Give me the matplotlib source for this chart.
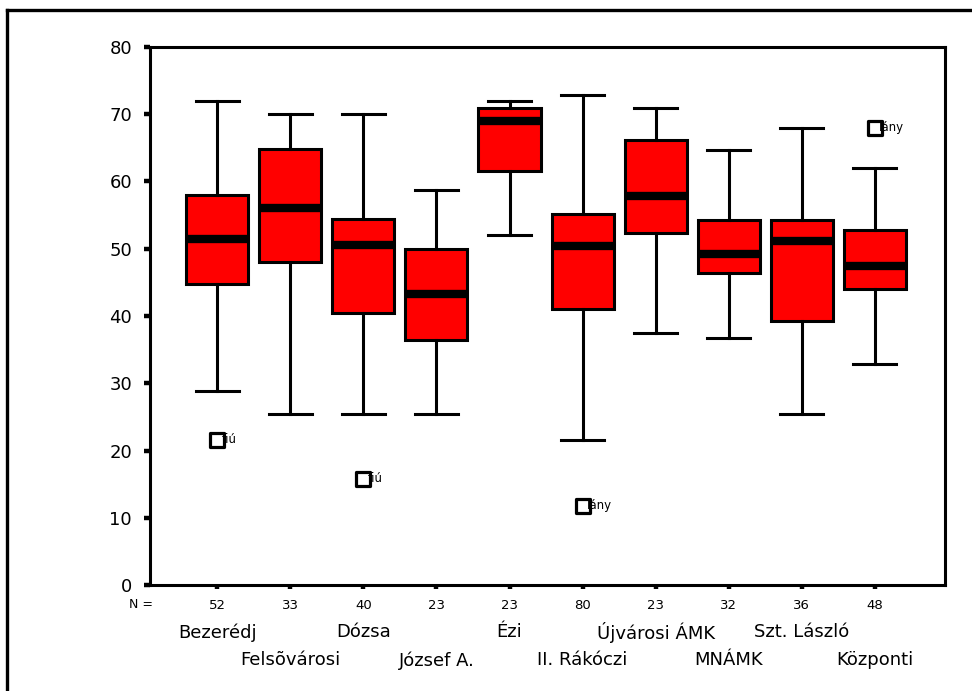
import matplotlib
matplotlib.use("Agg")
import matplotlib.pyplot as plt
from matplotlib.lines import Line2D
from matplotlib.markers import MarkerStyle

plt.rcParams["font.family"] = ["DejaVu Sans"]

# iskolák (kategóriák)
schools = ["Bezerédj", "Felsõvárosi", "Dózsa", "József A.", "Ézi",
           "II. Rákóczi", "Újvárosi ÁMK", "MNÁMK", "Szt. László", "Központi"]
n_values = [52, 33, 40, 23, 23, 80, 23, 32, 36, 48]

# doboz statisztikák
whisk_lo = [28.8, 25.5, 25.5, 25.5, 52.0, 21.6, 37.5, 36.8, 25.5, 32.8]
q1 = [44.8, 48.0, 40.5, 36.5, 61.5, 41.1, 52.3, 46.4, 39.2, 44.0]
medians = [51.5, 56.0, 50.5, 43.2, 69.0, 50.4, 57.8, 49.2, 51.1, 47.5]
q3 = [58.0, 64.8, 54.4, 50.0, 70.9, 55.1, 66.2, 54.3, 54.3, 52.8]
whisk_hi = [72.0, 70.0, 70.0, 58.8, 72.0, 72.8, 70.9, 64.7, 67.9, 62.0]

# kiugró értékek: (doboz index, érték, címke)
outlier_idx = [0, 2, 5, 9]
outlier_val = [21.6, 15.8, 11.8, 68.0]
outlier_lab = ["fiú", "fiú", "lány", "lány"]

positions = list(range(1, len(schools) + 1))

stats = []
for i in range(len(schools)):
    stats.append({
        "whislo": whisk_lo[i], "q1": q1[i], "med": medians[i],
        "q3": q3[i], "whishi": whisk_hi[i], "fliers": [],
    })

fig = plt.figure(figsize=(9.72, 6.91), dpi=100)
ax = fig.add_axes([150 / 972, 1 - 585 / 691, 795 / 972, 538 / 691])

ax.bxp(
    stats,
    positions=positions,
    widths=0.85,
    patch_artist=True,
    showfliers=False,
    boxprops=dict(facecolor="#ff0000", edgecolor="black", linewidth=2.2),
    medianprops=dict(color="black", linewidth=6, solid_capstyle="butt"),
    whiskerprops=dict(color="black", linewidth=2.2),
    capprops=dict(color="black", linewidth=2.2),
    capwidths=0.59,
)

# kiugró pontok
marker = MarkerStyle("s", joinstyle="round")
for i, v, lab in zip(outlier_idx, outlier_val, outlier_lab):
    x = positions[i]
    ax.plot([x], [v], linestyle="none", marker=marker, markersize=10.5,
            markerfacecolor="white", markeredgecolor="black",
            markeredgewidth=2.3, zorder=5)
    ax.annotate(lab, (x, v), xytext=(3, 0), textcoords="offset points",
                ha="left", va="center", fontsize=8.5, zorder=6)

ax.set_xlim(0.08, 10.96)
ax.set_ylim(0, 80)
ax.set_yticks(range(0, 81, 10))
ax.set_xticks(positions)
ax.set_xticklabels([str(n) for n in n_values], fontsize=9.5)
ax.tick_params(axis="y", direction="out", length=4, width=3.2, pad=9,
               labelsize=13)
ax.tick_params(axis="x", direction="out", length=3, width=3.2, pad=7)
for sp in ax.spines.values():
    sp.set_linewidth(2.2)

ax.text(0.004, -0.037, "N =", transform=ax.transAxes, ha="right",
        va="center", fontsize=9)

# iskolanevek két sorban
for i, name in enumerate(schools):
    yrow = -0.088 if i % 2 == 0 else -0.14
    ax.text(positions[i], yrow, name, transform=ax.get_xaxis_transform(),
            ha="center", va="center", fontsize=13, clip_on=False)

# külső keret (jobb és alsó része levágva)
fig.add_artist(Line2D([7 / 972, 1.0], [1 - 10 / 691, 1 - 10 / 691],
                      color="black", linewidth=2.4,
                      transform=fig.transFigure))
fig.add_artist(Line2D([7 / 972, 7 / 972], [0.0, 1 - 10 / 691],
                      color="black", linewidth=2.4,
                      transform=fig.transFigure))

fig.savefig("out.png", dpi=100)
